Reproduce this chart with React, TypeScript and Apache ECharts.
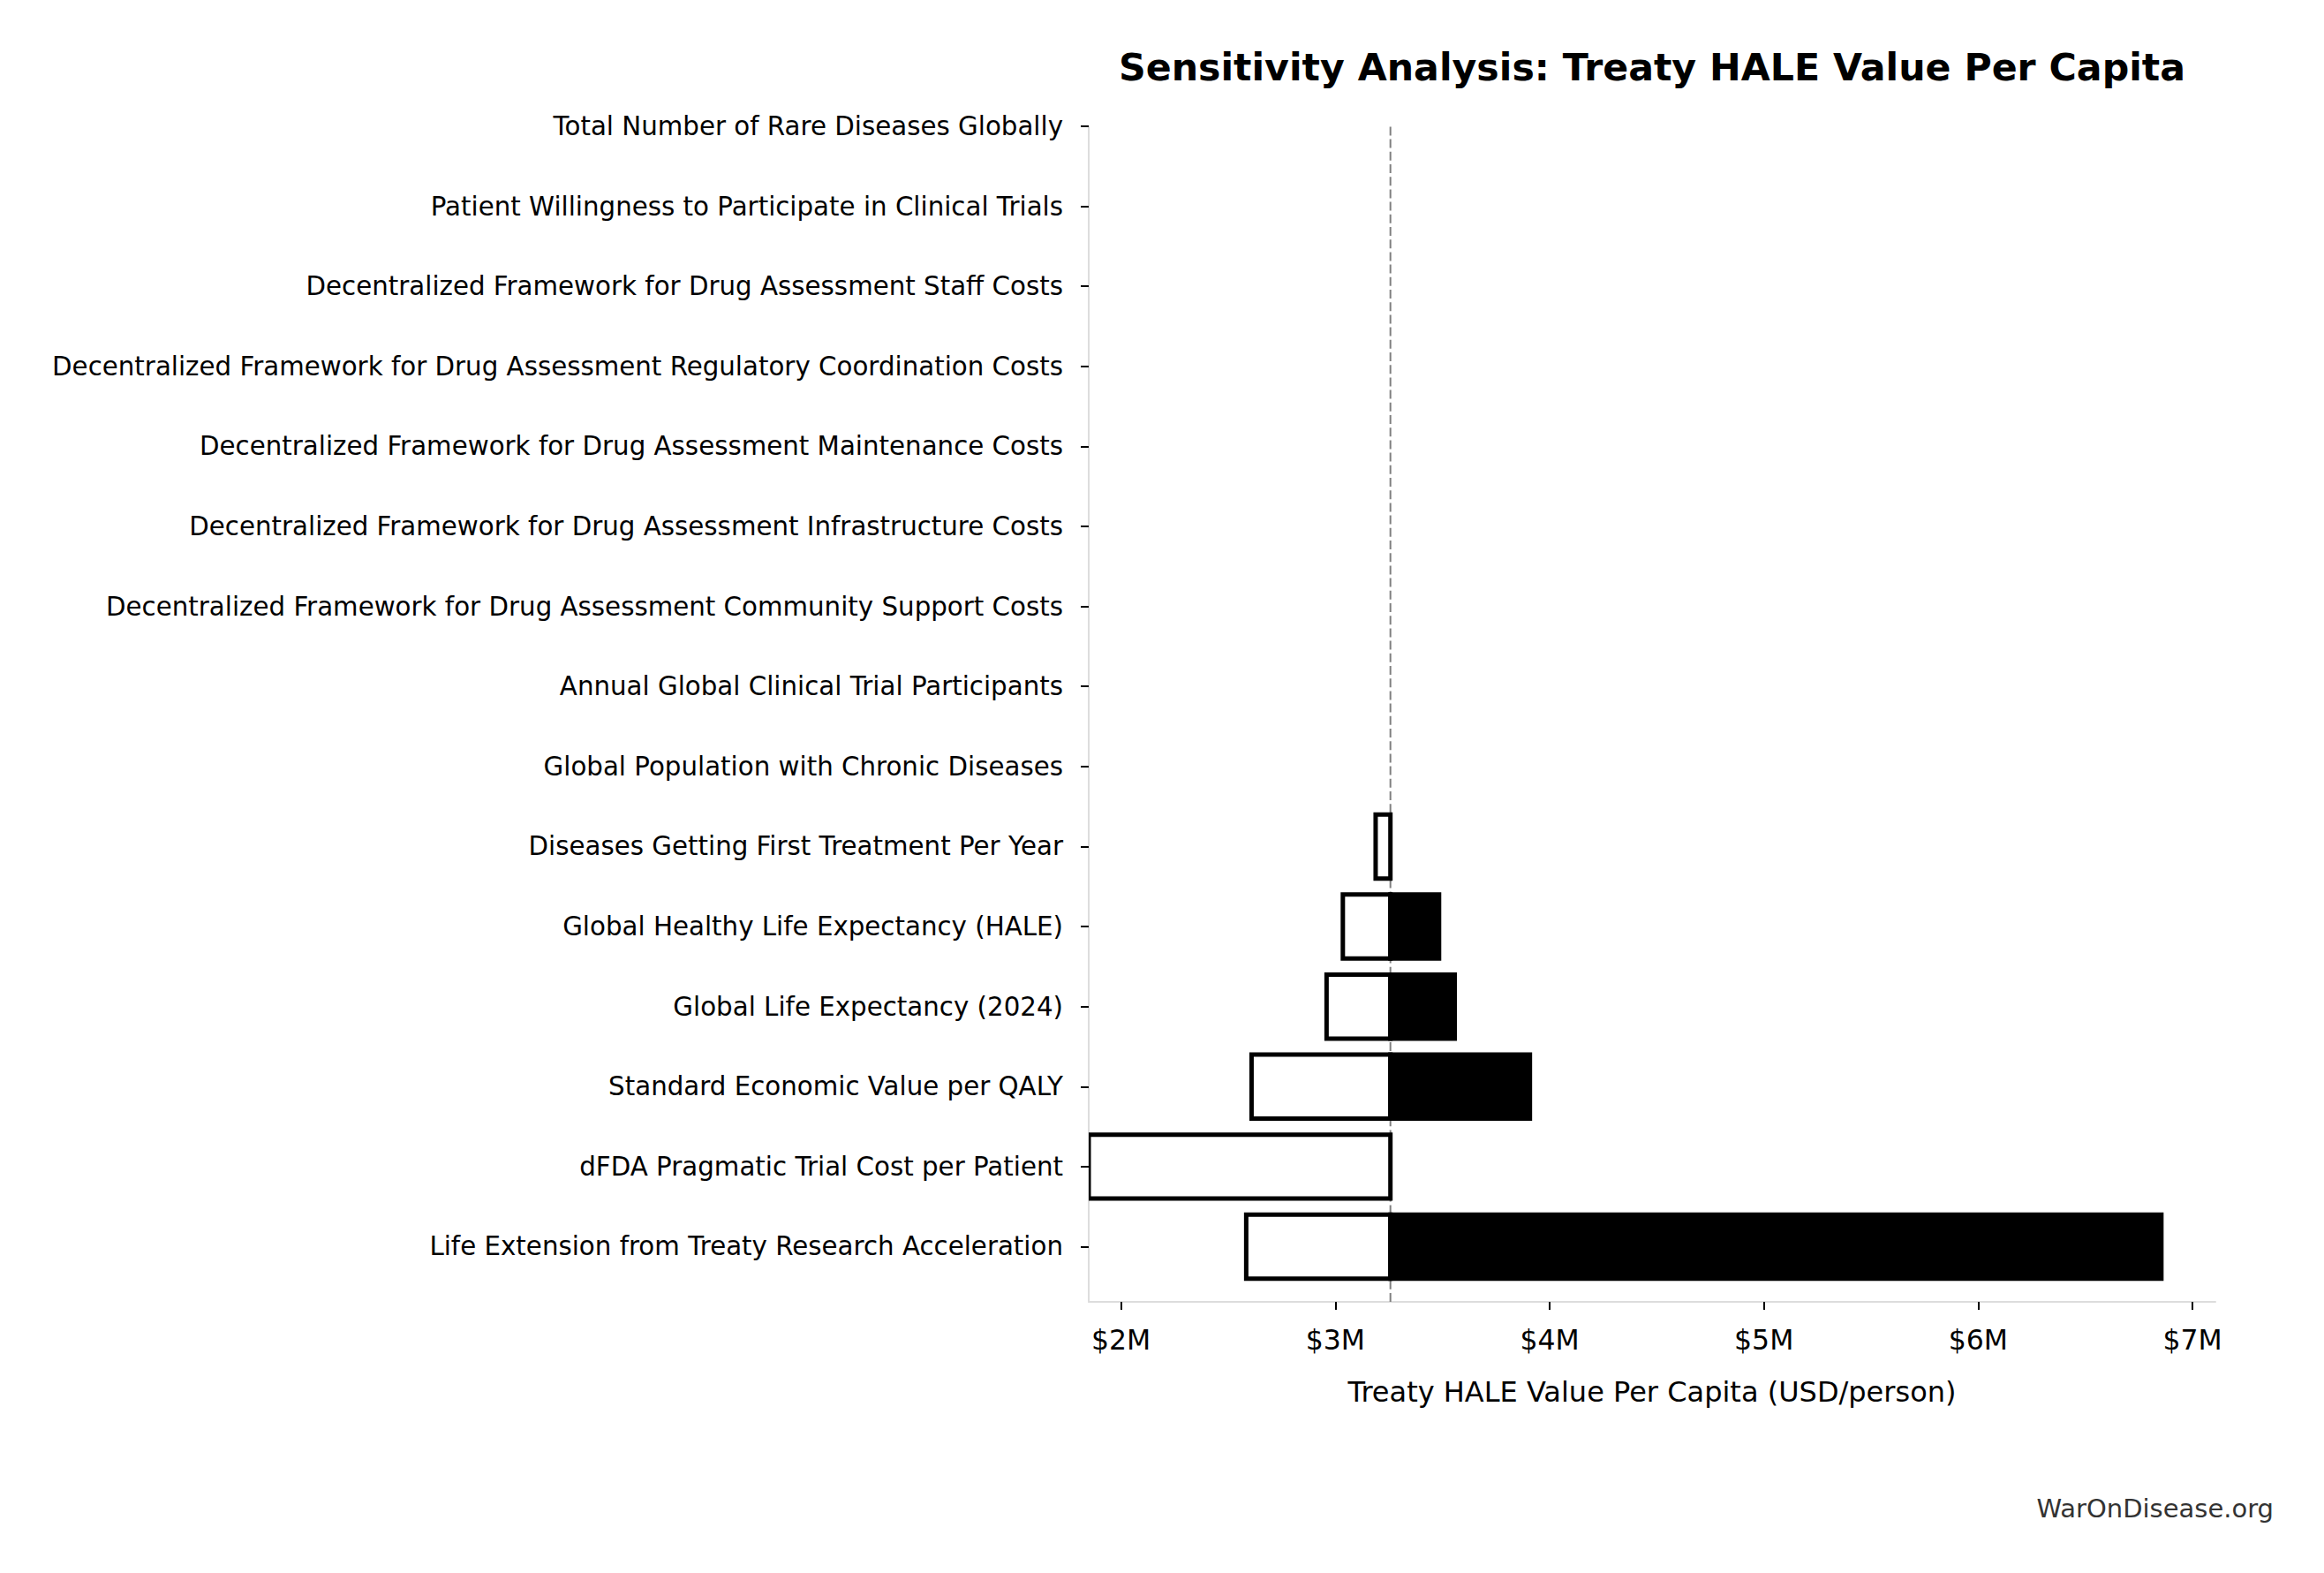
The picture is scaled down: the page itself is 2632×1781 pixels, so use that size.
import React, { useEffect, useRef } from 'react';
import * as echarts from 'echarts';

// ---- data (top to bottom) ----
const CATEGORIES = [
  'Total Number of Rare Diseases Globally',
  'Patient Willingness to Participate in Clinical Trials',
  'Decentralized Framework for Drug Assessment Staff Costs',
  'Decentralized Framework for Drug Assessment Regulatory Coordination Costs',
  'Decentralized Framework for Drug Assessment Maintenance Costs',
  'Decentralized Framework for Drug Assessment Infrastructure Costs',
  'Decentralized Framework for Drug Assessment Community Support Costs',
  'Annual Global Clinical Trial Participants',
  'Global Population with Chronic Diseases',
  'Diseases Getting First Treatment Per Year',
  'Global Healthy Life Expectancy (HALE)',
  'Global Life Expectancy (2024)',
  'Standard Economic Value per QALY',
  'dFDA Pragmatic Trial Cost per Patient',
  'Life Extension from Treaty Research Acceleration',
];

// value at the low end of each input's range (null = no change from base)
const LOW_VALUES: (number | null)[] = [
  null, null, null, null, null, null, null, null, null,
  3.188e6, 3.035e6, 2.959e6, 2.609e6, 1.849e6, 2.584e6,
];

// value at the high end of each input's range (null = no change from base)
const HIGH_VALUES: (number | null)[] = [
  null, null, null, null, null, null, null, null, null,
  null, 3.484e6, 3.557e6, 3.908e6, null, 6.855e6,
];

const BASE_VALUE = 3.257e6;

const X_TICKS = [2e6, 3e6, 4e6, 5e6, 6e6, 7e6];
const X_TICK_LABELS = ['$2M', '$3M', '$4M', '$5M', '$6M', '$7M'];
const X_MIN = 1.849e6;
const X_MAX = 7.107e6;

const Y_MAX = 14.69;
const BAR_HEIGHT = 0.8;

const TITLE = 'Sensitivity Analysis: Treaty HALE Value Per Capita';
const X_NAME = 'Treaty HALE Value Per Capita (USD/person)';
const WATERMARK = 'WarOnDisease.org';

const FONT = '"DejaVu Sans", "Liberation Sans", sans-serif';

export default function App() {
  const ref = useRef<HTMLDivElement>(null);

  useEffect(() => {
    document.body.style.margin = '0';
    document.body.style.overflow = 'hidden';
    if (!ref.current) return;
    const chart = echarts.init(ref.current, null, { renderer: 'svg' });

    const lowData = LOW_VALUES.map((v, i) => (v == null ? null : [i, v, BASE_VALUE])).filter(
      (d) => d !== null
    );
    const highData = HIGH_VALUES.map((v, i) => (v == null ? null : [i, BASE_VALUE, v])).filter(
      (d) => d !== null
    );

    const barRender = (fill: string) => (params: any, api: any) => {
      const y = api.value(0);
      const a = api.coord([api.value(1), y]);
      const b = api.coord([api.value(2), y]);
      const h = api.size([0, 1])[1] * BAR_HEIGHT;
      const x0 = Math.min(a[0], b[0]);
      const w = Math.abs(b[0] - a[0]);
      return {
        type: 'rect',
        shape: { x: x0, y: a[1] - h / 2, width: w, height: h },
        style: { fill, stroke: '#000000', lineWidth: 5 },
      };
    };

    const tickIdx = CATEGORIES.map((_, i) => i);

    chart.setOption({
      animation: false,
      backgroundColor: '#ffffff',
      textStyle: { fontFamily: FONT },
      grid: { left: 1233, right: 123, top: 143, bottom: 307, containLabel: false },
      xAxis: {
        type: 'value',
        position: 'bottom',
        min: X_MIN,
        max: X_MAX,
        name: X_NAME,
        nameLocation: 'middle',
        nameGap: 86,
        nameTextStyle: { fontSize: 32, color: '#000000', fontFamily: FONT },
        axisLine: { show: true, onZero: false, lineStyle: { color: '#dddddd', width: 2 } },
        axisTick: {
          show: true,
          length: 9,
          lineStyle: { color: '#000000', width: 2 },
          customValues: X_TICKS,
        },
        axisLabel: {
          customValues: X_TICKS,
          margin: 27,
          fontSize: 31.5,
          color: '#000000',
          fontFamily: FONT,
          formatter: (v: number) => {
            const i = X_TICKS.indexOf(v);
            return i >= 0 ? X_TICK_LABELS[i] : '';
          },
        },
        splitLine: { show: false },
      },
      yAxis: {
        type: 'value',
        inverse: true,
        min: 0,
        max: Y_MAX,
        axisLine: { show: true, onZero: false, lineStyle: { color: '#dddddd', width: 2 } },
        axisTick: {
          show: true,
          length: 9,
          lineStyle: { color: '#000000', width: 2 },
          customValues: tickIdx,
        },
        axisLabel: {
          customValues: tickIdx,
          margin: 29,
          fontSize: 29.3,
          color: '#000000',
          fontFamily: FONT,
          formatter: (v: number) => CATEGORIES[v] ?? '',
        },
        splitLine: { show: false },
      },
      series: [
        {
          type: 'custom',
          name: 'base',
          z: 1,
          clip: true,
          data: [[BASE_VALUE, 0]],
          encode: { x: 0, y: 1 },
          renderItem: (params: any, api: any) => {
            const xv = api.value(0);
            const p0 = api.coord([xv, Y_MAX]);
            const p1 = api.coord([xv, 0]);
            return {
              type: 'line',
              shape: { x1: p0[0], y1: p0[1], x2: p1[0], y2: p1[1] },
              style: { stroke: '#808080', lineWidth: 2, lineDash: [10, 4.2] },
            };
          },
        },
        {
          type: 'custom',
          name: 'low',
          z: 2,
          clip: true,
          data: lowData,
          encode: { x: [1, 2], y: 0 },
          renderItem: barRender('#ffffff'),
        },
        {
          type: 'custom',
          name: 'high',
          z: 3,
          clip: true,
          data: highData,
          encode: { x: [1, 2], y: 0 },
          renderItem: barRender('#000000'),
        },
      ],
      graphic: [
        {
          type: 'text',
          x: 1871,
          y: 76,
          style: {
            text: TITLE,
            fontSize: 42.7,
            fontWeight: 'bold',
            fontFamily: FONT,
            fill: '#000000',
            textAlign: 'center',
            textVerticalAlign: 'middle',
          },
        },
        {
          type: 'text',
          x: 2575,
          y: 1708,
          style: {
            text: WATERMARK,
            fontSize: 29,
            fontFamily: FONT,
            fill: '#333333',
            textAlign: 'right',
            textVerticalAlign: 'middle',
          },
        },
      ],
    });

    return () => {
      chart.dispose();
    };
  }, []);

  return <div ref={ref} style={{ width: 2632, height: 1781 }} />;
}
